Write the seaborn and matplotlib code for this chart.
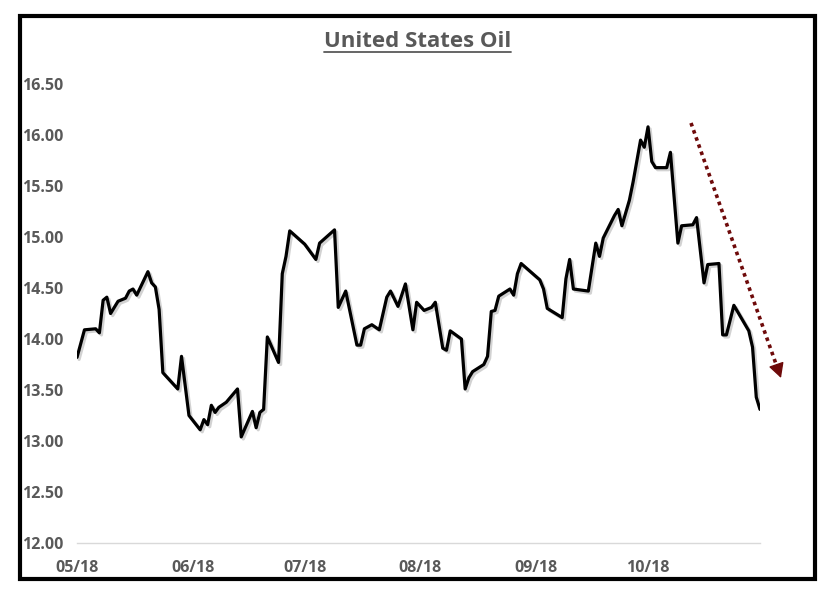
import matplotlib
matplotlib.use("Agg")
import numpy as np
import pandas as pd
import seaborn as sns
import matplotlib.pyplot as plt
import matplotlib.patheffects as pe
import matplotlib.dates as mdates
from matplotlib.patches import Rectangle
from matplotlib.lines import Line2D
from matplotlib.ticker import FixedLocator

# ---- data ----
dates = [
    "2018-05-01", "2018-05-03", "2018-05-06", "2018-05-07", "2018-05-08", "2018-05-09",
    "2018-05-10", "2018-05-12", "2018-05-14", "2018-05-15", "2018-05-16", "2018-05-17",
    "2018-05-20", "2018-05-21", "2018-05-22", "2018-05-23", "2018-05-24", "2018-05-28",
    "2018-05-29", "2018-05-31", "2018-06-03", "2018-06-04", "2018-06-05", "2018-06-06",
    "2018-06-07", "2018-06-08", "2018-06-10", "2018-06-13", "2018-06-14", "2018-06-17",
    "2018-06-18", "2018-06-19", "2018-06-20", "2018-06-21", "2018-06-24", "2018-06-25",
    "2018-06-26", "2018-06-27", "2018-07-01", "2018-07-04", "2018-07-05", "2018-07-09",
    "2018-07-10", "2018-07-12", "2018-07-15", "2018-07-16", "2018-07-17", "2018-07-19",
    "2018-07-21", "2018-07-23", "2018-07-24", "2018-07-26", "2018-07-28", "2018-07-30",
    "2018-07-31", "2018-08-02", "2018-08-04", "2018-08-05", "2018-08-07", "2018-08-08",
    "2018-08-09", "2018-08-12", "2018-08-13", "2018-08-14", "2018-08-15", "2018-08-18",
    "2018-08-19", "2018-08-20", "2018-08-21", "2018-08-22", "2018-08-25", "2018-08-26",
    "2018-08-27", "2018-08-28", "2018-09-02", "2018-09-03", "2018-09-04", "2018-09-08",
    "2018-09-09", "2018-09-10", "2018-09-11", "2018-09-15", "2018-09-17", "2018-09-18",
    "2018-09-19", "2018-09-22", "2018-09-23", "2018-09-24", "2018-09-26", "2018-09-27",
    "2018-09-29", "2018-09-30", "2018-10-01", "2018-10-02", "2018-10-03", "2018-10-06",
    "2018-10-07", "2018-10-09", "2018-10-10", "2018-10-13", "2018-10-14", "2018-10-16",
    "2018-10-17", "2018-10-20", "2018-10-21", "2018-10-22", "2018-10-24", "2018-10-28",
    "2018-10-29", "2018-10-30", "2018-10-31",
]
values = [
    13.82, 14.09, 14.10, 14.06, 14.38, 14.41,
    14.25, 14.37, 14.40, 14.47, 14.49, 14.43,
    14.66, 14.55, 14.51, 14.29, 13.67, 13.51,
    13.83, 13.25, 13.11, 13.21, 13.16, 13.35,
    13.28, 13.33, 13.38, 13.51, 13.04, 13.29,
    13.13, 13.28, 13.31, 14.02, 13.77, 14.64,
    14.81, 15.06, 14.93, 14.78, 14.94, 15.07,
    14.31, 14.47, 13.94, 13.94, 14.10, 14.14,
    14.09, 14.41, 14.47, 14.32, 14.54, 14.09,
    14.36, 14.28, 14.31, 14.36, 13.91, 13.89,
    14.08, 14.00, 13.51, 13.62, 13.68, 13.75,
    13.83, 14.27, 14.28, 14.42, 14.49, 14.43,
    14.64, 14.74, 14.58, 14.49, 14.30, 14.21,
    14.59, 14.78, 14.49, 14.47, 14.94, 14.81,
    14.99, 15.21, 15.27, 15.11, 15.36, 15.54,
    15.95, 15.88, 16.08, 15.74, 15.68, 15.68,
    15.83, 14.94, 15.11, 15.12, 15.19, 14.55,
    14.73, 14.74, 14.04, 14.04, 14.33, 14.08,
    13.92, 13.43, 13.31,
]
month_ticks = ["2018-05-01", "2018-06-01", "2018-07-01", "2018-08-01", "2018-09-01", "2018-10-01"]
month_labels = ["05/18", "06/18", "07/18", "08/18", "09/18", "10/18"]
y_ticks = [12.00, 12.50, 13.00, 13.50, 14.00, 14.50, 15.00, 15.50, 16.00, 16.50]
title = "United States Oil"

# ---- style ----
sns.set_theme(style="white")
plt.rcParams["font.family"] = ["Open Sans", "DejaVu Sans"]
GRAY = "#595959"

W, H = 829, 595
fig = plt.figure(figsize=(W / 100, H / 100), dpi=100)
fig.patch.set_facecolor("white")

def fx(px):
    return px / W

def fy(py):
    return 1 - py / H

ax = fig.add_axes([fx(77), fy(543), fx(760) - fx(77), fy(84) - fy(543)])
ax.set_facecolor("white")

df = pd.DataFrame({"date": pd.to_datetime(dates), "value": values})
sns.lineplot(
    data=df, x="date", y="value", ax=ax, color="black", linewidth=2.3,
    path_effects=[pe.SimpleLineShadow(offset=(1.5, -1.5), shadow_color="#808080", alpha=0.35),
                  pe.Normal()],
)

ax.set_xlim(pd.Timestamp("2018-05-01"), pd.Timestamp("2018-10-31"))
ax.set_ylim(12, 16.5)
ax.set_xlabel("")
ax.set_ylabel("")

ax.set_xticks(pd.to_datetime(month_ticks))
ax.set_xticklabels(month_labels)
ax.xaxis.set_minor_locator(FixedLocator([ax.get_xlim()[1]]))
ax.set_yticks(y_ticks)
ax.set_yticklabels([f"{v:.2f}" for v in y_ticks])

for s in ["left", "top", "right"]:
    ax.spines[s].set_visible(False)
ax.spines["bottom"].set_color("#d9d9d9")
ax.spines["bottom"].set_linewidth(1.0)

ax.tick_params(axis="y", length=0, pad=10, labelsize=11.5, labelcolor=GRAY)
ax.tick_params(axis="x", which="both", length=4, width=1, color="#d9d9d9",
               direction="out", pad=8, labelsize=11.5, labelcolor=GRAY)
for lab in ax.get_xticklabels() + ax.get_yticklabels():
    lab.set_fontweight("bold")
ax.grid(False)

# title with underline
t = fig.text(fx(417.5), fy(46.7), title, ha="center", va="baseline",
             fontsize=16, fontweight="bold", color=GRAY)
fig.canvas.draw()
bb = t.get_window_extent(renderer=fig.canvas.get_renderer())
fig.add_artist(Line2D([bb.x0 / W, bb.x1 / W], [fy(51.7), fy(51.7)],
                      transform=fig.transFigure, color=GRAY, lw=1.3))

# dotted trend arrow
arrow_color = "#6e0a0a"
fig.add_artist(Line2D([fx(691), fx(776)], [fy(123), fy(364)], transform=fig.transFigure,
                      color=arrow_color, lw=2.6, linestyle=(0, (1, 1.1)),
                      solid_capstyle="butt", dash_capstyle="butt"))
ax.annotate("", xy=(fx(781), fy(378)), xytext=(fx(776.5), fy(365)),
            xycoords="figure fraction", textcoords="figure fraction",
            arrowprops=dict(arrowstyle="-|>,head_length=0.75,head_width=0.4",
                            color=arrow_color, lw=1.0, shrinkA=0, shrinkB=0),
            annotation_clip=False)

# outer border
fig.add_artist(Rectangle((fx(20), fy(579)), fx(815) - fx(20), fy(16) - fy(579),
                         transform=fig.transFigure, fill=False, ec="black", lw=3))

fig.savefig("out.png", dpi=100)
